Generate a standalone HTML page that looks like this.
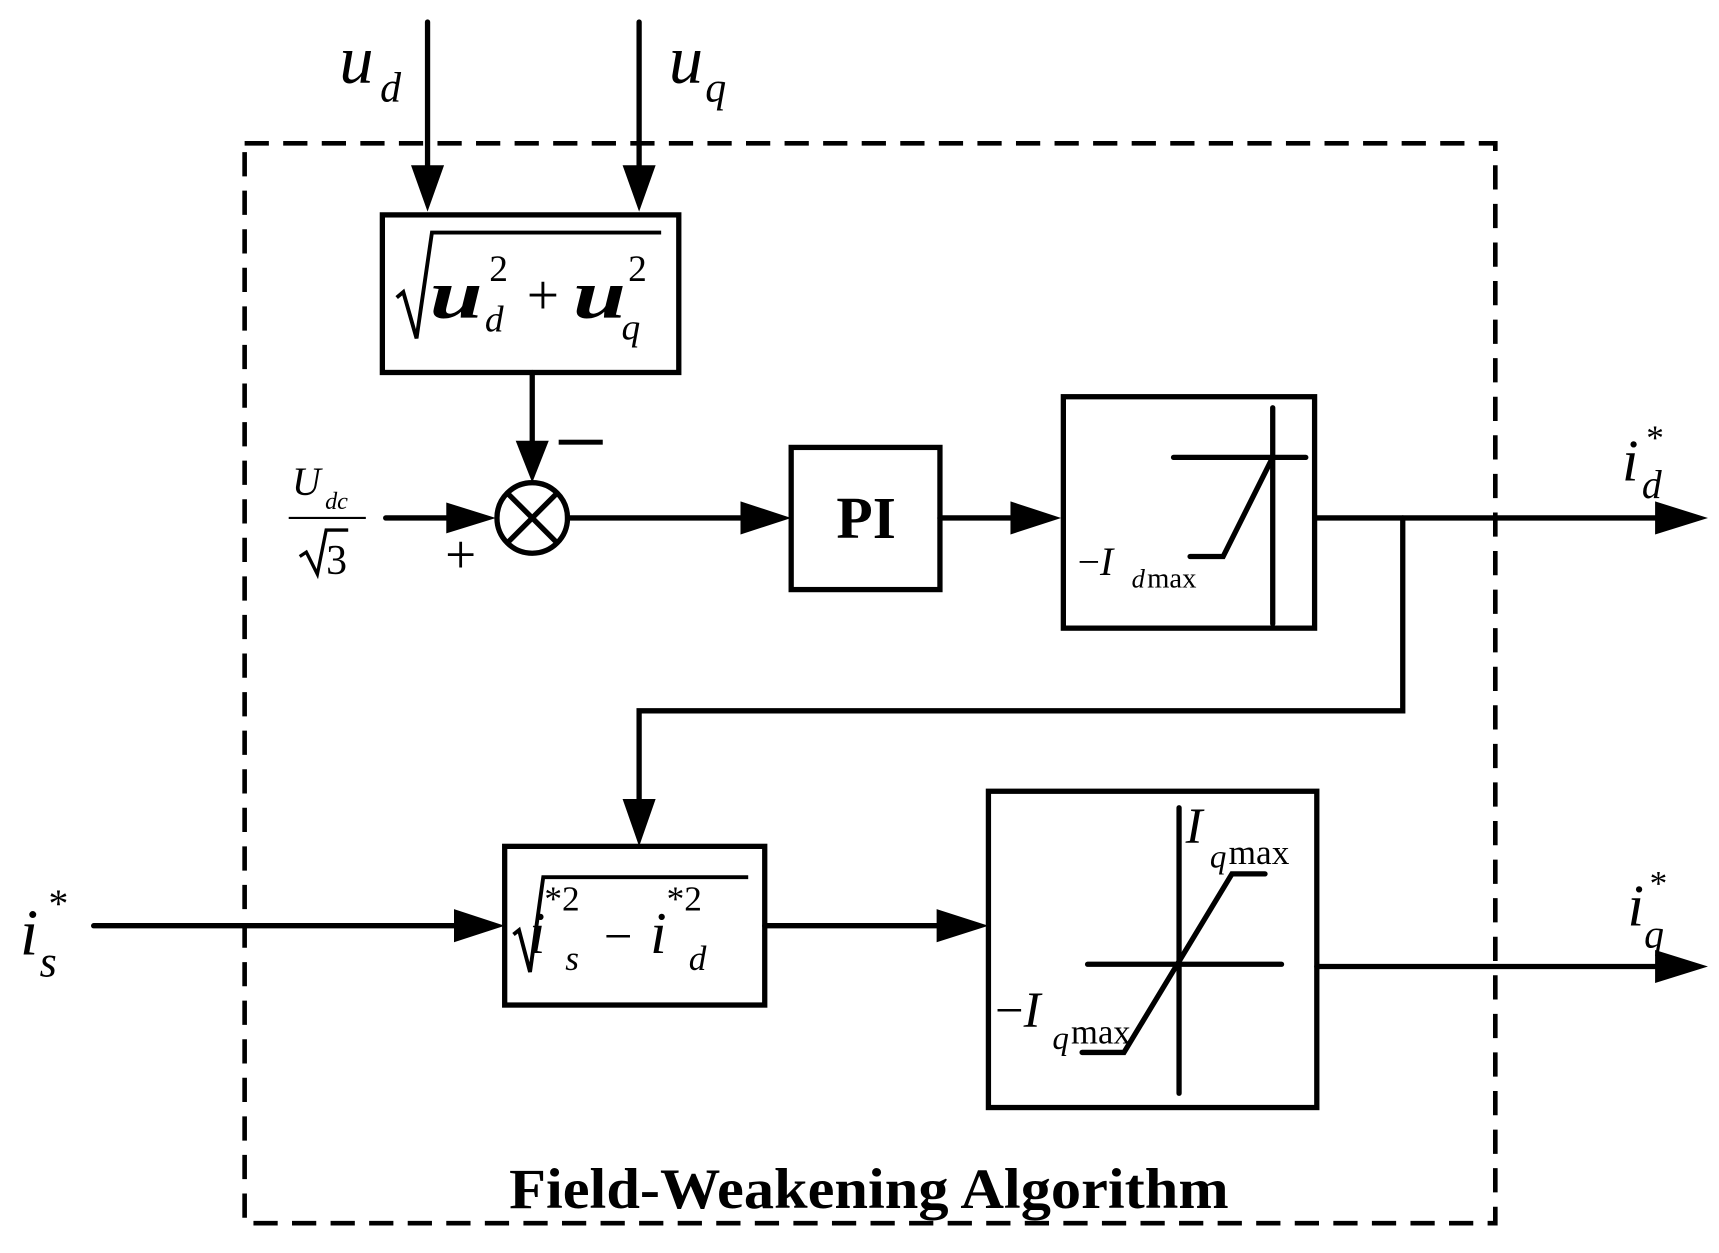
<!DOCTYPE html>
<html><head><meta charset="utf-8"><style>html,body{margin:0;padding:0;background:#fff}svg{display:block}</style></head>
<body>
<svg width="1719" height="1253" viewBox="0 0 1560 1137" preserveAspectRatio="none" xmlns="http://www.w3.org/2000/svg" font-family="Liberation Serif, serif">
<g stroke="#000" stroke-width="4.8" fill="none" stroke-linecap="round">
<rect x="222" y="130" width="1135" height="980" stroke-dasharray="22,13" stroke-linecap="butt" stroke-width="4.2"/>
<line x1="388" y1="20" x2="388" y2="160"/>
<line x1="580" y1="20" x2="580" y2="160"/>
<rect x="347" y="195" width="269" height="143"/>
<line x1="483" y1="338" x2="483" y2="405"/>
<circle cx="483" cy="470" r="32"/>
<line x1="461" y1="448" x2="505" y2="492"/>
<line x1="505" y1="448" x2="461" y2="492"/>
<line x1="350" y1="470" x2="415" y2="470"/>
<line x1="515" y1="470" x2="680" y2="470"/>
<rect x="718" y="406" width="135" height="129"/>
<line x1="853" y1="470" x2="925" y2="470"/>
<rect x="965" y="360" width="228" height="210"/>
<line x1="1155" y1="370" x2="1155" y2="566"/>
<line x1="1065" y1="415" x2="1185" y2="415"/>
<polyline points="1080,505 1110,505 1155,415"/>
<line x1="1193" y1="470" x2="1510" y2="470"/>
<polyline points="1273,470 1273,645 580,645 580,732"/>
<rect x="458" y="768" width="236" height="144"/>
<line x1="85" y1="840" x2="420" y2="840"/>
<line x1="694" y1="840" x2="858" y2="840"/>
<rect x="897" y="718" width="298" height="287"/>
<line x1="987" y1="875" x2="1163" y2="875"/>
<line x1="1070" y1="733" x2="1070" y2="992"/>
<polyline points="982,955 1020,955 1118,793 1148,793"/>
<line x1="1195" y1="877" x2="1510" y2="877"/>
</g>
<g fill="#000">
<polygon points="373,150 403,150 388,192"/>
<polygon points="565,150 595,150 580,192"/>
<polygon points="468,400 498,400 483,438"/>
<polygon points="405,456 405,484 450,470"/>
<polygon points="672,455 672,485 718,470"/>
<polygon points="917,455 917,485 963,470"/>
<polygon points="1502,455 1502,485 1550,470"/>
<polygon points="565,725 595,725 580,768"/>
<polygon points="412,825 412,855 458,840"/>
<polygon points="850,825 850,855 897,840"/>
<polygon points="1502,862 1502,892 1550,877"/>
</g>
<g fill="#000" font-style="italic">
<text x="308" y="75" font-size="62">u</text><text x="345" y="92" font-size="38">d</text>
<text x="607" y="75" font-size="62">u</text><text x="640" y="92" font-size="38">q</text>
<text x="1472" y="436" font-size="54">i</text><text x="1494" y="408" font-size="32" font-style="normal">*</text><text x="1490" y="452" font-size="36">d</text>
<text x="1477" y="840" font-size="54">i</text><text x="1497" y="812" font-size="32" font-style="normal">*</text><text x="1492" y="860" font-size="36">q</text>
<text x="18" y="866" font-size="60">i</text><text x="44" y="832" font-size="36" font-style="normal">*</text><text x="36" y="886" font-size="40">s</text>
<text x="265" y="449" font-size="36">U</text><text x="295" y="462" font-size="22">dc</text>
</g>
<line x1="262" y1="470" x2="332" y2="470" stroke="#000" stroke-width="2"/>
<path d="M272,505 l6,-4 l10,20 l8,-40 h20" stroke="#000" stroke-width="3" fill="none"/>
<text x="296" y="521" font-size="38" fill="#000">3</text>
<text x="404" y="520" font-size="50" fill="#000">+</text>
<rect x="507" y="399" width="40" height="4.5" fill="#000"/>
<path d="M360,270 l6,-5 l12,42 l14,-96 h208" stroke="#000" stroke-width="3.5" fill="none"/>
<g fill="#000">
<text x="390" y="288" font-size="62" font-style="italic" font-weight="bold" textLength="48" lengthAdjust="spacingAndGlyphs">u</text>
<text x="444" y="255" font-size="34">2</text>
<text x="440" y="301" font-size="34" font-style="italic">d</text>
<text x="478" y="285" font-size="52">+</text>
<text x="520" y="288" font-size="62" font-style="italic" font-weight="bold" textLength="48" lengthAdjust="spacingAndGlyphs">u</text>
<text x="570" y="255" font-size="34">2</text>
<text x="564" y="308" font-size="34" font-style="italic">q</text>
<text x="786" y="488" font-size="54" font-weight="bold" text-anchor="middle">PI</text>
<text x="978" y="522" font-size="36">−<tspan font-style="italic">I</tspan></text>
<text x="1027" y="533" font-size="24" font-style="italic">d</text><text x="1041" y="533" font-size="26">max</text>
<text x="1076" y="765" font-size="46" font-style="italic">I</text>
<text x="1098" y="787" font-size="30" font-style="italic">q</text><text x="1115" y="784" font-size="32">max</text>
<text x="903" y="932" font-size="46">−<tspan font-style="italic">I</tspan></text>
<text x="955" y="952" font-size="30" font-style="italic">q</text><text x="972" y="947" font-size="32" textLength="54" lengthAdjust="spacingAndGlyphs">max</text>
</g>
<path d="M466,848 l5,-4 l10,38 l12,-86 h186" stroke="#000" stroke-width="3.5" fill="none"/>
<g fill="#000">
<text x="480" y="865" font-size="54" font-style="italic">i</text>
<text x="494" y="826" font-size="32">*2</text>
<text x="513" y="880" font-size="32" font-style="italic">s</text>
<text x="548" y="865" font-size="46">−</text>
<text x="590" y="865" font-size="54" font-style="italic">i</text>
<text x="605" y="826" font-size="32">*2</text>
<text x="625" y="880" font-size="32" font-style="italic">d</text>
<text x="462" y="1096" font-size="52" font-weight="bold" textLength="653" lengthAdjust="spacingAndGlyphs">Field-Weakening Algorithm</text>
</g>
</svg>
</body></html>
